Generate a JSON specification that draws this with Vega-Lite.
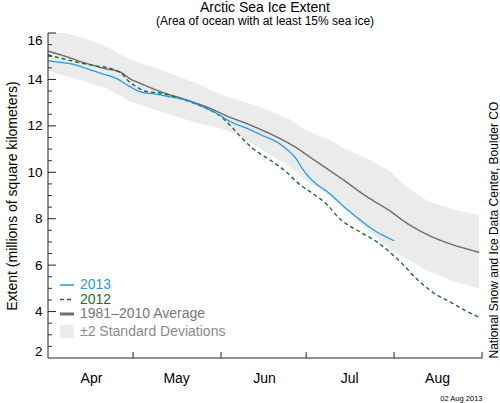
{
  "$schema": "https://vega.github.io/schema/vega-lite/v6.json",
  "width": 434,
  "height": 325,
  "autosize": "none",
  "padding": {"left": 48, "top": 33, "right": 18, "bottom": 45},
  "background": "white",
  "config": {
    "view": {"stroke": null},
    "font": "Liberation Sans",
    "axis": {"labelFont": "Liberation Sans", "titleFont": "Liberation Sans", "grid": false},
    "legend": {"labelFont": "Liberation Sans"}
  },
  "title": {
    "text": "Arctic Sea Ice Extent",
    "subtitle": "(Area of ocean with at least 15% sea ice)",
    "fontSize": 14,
    "fontWeight": "normal",
    "subtitleFontSize": 12,
    "anchor": "middle",
    "offset": 6,
    "subtitlePadding": 1,
    "color": "black",
    "subtitleColor": "black",
    "font": "Liberation Sans",
    "subtitleFont": "Liberation Sans"
  },
  "datasets": {
    "band": [
      {"date": "2013-04-01", "lo": 14.4, "hi": 16.0},
      {"date": "2013-04-07", "lo": 14.15, "hi": 16.0},
      {"date": "2013-04-13", "lo": 13.95, "hi": 15.8},
      {"date": "2013-04-22", "lo": 13.6, "hi": 15.4},
      {"date": "2013-04-30", "lo": 13.05, "hi": 14.85},
      {"date": "2013-05-11", "lo": 12.6, "hi": 14.4},
      {"date": "2013-05-23", "lo": 12.15, "hi": 13.85},
      {"date": "2013-06-01", "lo": 11.9, "hi": 13.35},
      {"date": "2013-06-07", "lo": 11.6, "hi": 13.1},
      {"date": "2013-06-15", "lo": 11.0, "hi": 12.8},
      {"date": "2013-06-25", "lo": 10.25, "hi": 12.3},
      {"date": "2013-07-01", "lo": 9.65, "hi": 11.8},
      {"date": "2013-07-09", "lo": 9.0, "hi": 11.4},
      {"date": "2013-07-15", "lo": 8.35, "hi": 11.0},
      {"date": "2013-07-22", "lo": 7.6, "hi": 10.6},
      {"date": "2013-07-30", "lo": 6.75, "hi": 10.1},
      {"date": "2013-08-05", "lo": 6.3, "hi": 9.4},
      {"date": "2013-08-13", "lo": 5.75, "hi": 8.75},
      {"date": "2013-08-22", "lo": 5.3, "hi": 8.4},
      {"date": "2013-08-31", "lo": 5.0, "hi": 8.15}
    ],
    "lines": [
      {"series": "1981–2010 Average", "date": "2013-04-01", "value": 15.22},
      {"series": "1981–2010 Average", "date": "2013-04-07", "value": 15.0},
      {"series": "1981–2010 Average", "date": "2013-04-13", "value": 14.75},
      {"series": "1981–2010 Average", "date": "2013-04-20", "value": 14.5},
      {"series": "1981–2010 Average", "date": "2013-04-27", "value": 14.28},
      {"series": "1981–2010 Average", "date": "2013-04-30", "value": 14.02},
      {"series": "1981–2010 Average", "date": "2013-05-03", "value": 13.86},
      {"series": "1981–2010 Average", "date": "2013-05-11", "value": 13.46},
      {"series": "1981–2010 Average", "date": "2013-05-19", "value": 13.15},
      {"series": "1981–2010 Average", "date": "2013-05-27", "value": 12.81},
      {"series": "1981–2010 Average", "date": "2013-06-04", "value": 12.38},
      {"series": "1981–2010 Average", "date": "2013-06-10", "value": 12.1},
      {"series": "1981–2010 Average", "date": "2013-06-15", "value": 11.84},
      {"series": "1981–2010 Average", "date": "2013-06-21", "value": 11.5},
      {"series": "1981–2010 Average", "date": "2013-06-27", "value": 11.1},
      {"series": "1981–2010 Average", "date": "2013-07-03", "value": 10.6},
      {"series": "1981–2010 Average", "date": "2013-07-09", "value": 10.1},
      {"series": "1981–2010 Average", "date": "2013-07-15", "value": 9.6},
      {"series": "1981–2010 Average", "date": "2013-07-20", "value": 9.15},
      {"series": "1981–2010 Average", "date": "2013-07-25", "value": 8.75},
      {"series": "1981–2010 Average", "date": "2013-07-30", "value": 8.38},
      {"series": "1981–2010 Average", "date": "2013-08-05", "value": 7.85},
      {"series": "1981–2010 Average", "date": "2013-08-13", "value": 7.3},
      {"series": "1981–2010 Average", "date": "2013-08-20", "value": 6.95},
      {"series": "1981–2010 Average", "date": "2013-08-26", "value": 6.72},
      {"series": "1981–2010 Average", "date": "2013-08-31", "value": 6.55},
      {"series": "2012", "date": "2013-04-01", "value": 15.05},
      {"series": "2012", "date": "2013-04-06", "value": 14.9},
      {"series": "2012", "date": "2013-04-11", "value": 14.75},
      {"series": "2012", "date": "2013-04-17", "value": 14.6},
      {"series": "2012", "date": "2013-04-23", "value": 14.47},
      {"series": "2012", "date": "2013-04-27", "value": 14.25},
      {"series": "2012", "date": "2013-04-29", "value": 13.97},
      {"series": "2012", "date": "2013-05-02", "value": 13.7},
      {"series": "2012", "date": "2013-05-05", "value": 13.5},
      {"series": "2012", "date": "2013-05-11", "value": 13.4},
      {"series": "2012", "date": "2013-05-19", "value": 13.12},
      {"series": "2012", "date": "2013-05-24", "value": 12.9},
      {"series": "2012", "date": "2013-05-28", "value": 12.69},
      {"series": "2012", "date": "2013-06-01", "value": 12.4},
      {"series": "2012", "date": "2013-06-04", "value": 12.05},
      {"series": "2012", "date": "2013-06-08", "value": 11.52},
      {"series": "2012", "date": "2013-06-12", "value": 11.05},
      {"series": "2012", "date": "2013-06-18", "value": 10.55},
      {"series": "2012", "date": "2013-06-23", "value": 10.12},
      {"series": "2012", "date": "2013-06-29", "value": 9.45},
      {"series": "2012", "date": "2013-07-03", "value": 9.11},
      {"series": "2012", "date": "2013-07-08", "value": 8.65},
      {"series": "2012", "date": "2013-07-13", "value": 7.98},
      {"series": "2012", "date": "2013-07-20", "value": 7.43},
      {"series": "2012", "date": "2013-07-26", "value": 7.0},
      {"series": "2012", "date": "2013-07-31", "value": 6.5},
      {"series": "2012", "date": "2013-08-04", "value": 6.05},
      {"series": "2012", "date": "2013-08-09", "value": 5.4},
      {"series": "2012", "date": "2013-08-15", "value": 4.8},
      {"series": "2012", "date": "2013-08-21", "value": 4.4},
      {"series": "2012", "date": "2013-08-26", "value": 4.05},
      {"series": "2012", "date": "2013-08-31", "value": 3.75},
      {"series": "2013", "date": "2013-04-01", "value": 14.8},
      {"series": "2013", "date": "2013-04-05", "value": 14.74},
      {"series": "2013", "date": "2013-04-10", "value": 14.65},
      {"series": "2013", "date": "2013-04-15", "value": 14.45},
      {"series": "2013", "date": "2013-04-20", "value": 14.25},
      {"series": "2013", "date": "2013-04-25", "value": 14.05},
      {"series": "2013", "date": "2013-04-30", "value": 13.68},
      {"series": "2013", "date": "2013-05-04", "value": 13.45},
      {"series": "2013", "date": "2013-05-09", "value": 13.37},
      {"series": "2013", "date": "2013-05-14", "value": 13.25},
      {"series": "2013", "date": "2013-05-20", "value": 13.1},
      {"series": "2013", "date": "2013-05-25", "value": 12.85},
      {"series": "2013", "date": "2013-05-31", "value": 12.5},
      {"series": "2013", "date": "2013-06-04", "value": 12.2},
      {"series": "2013", "date": "2013-06-10", "value": 11.9},
      {"series": "2013", "date": "2013-06-15", "value": 11.62},
      {"series": "2013", "date": "2013-06-22", "value": 11.2},
      {"series": "2013", "date": "2013-06-25", "value": 10.9},
      {"series": "2013", "date": "2013-06-27", "value": 10.66},
      {"series": "2013", "date": "2013-06-30", "value": 10.1},
      {"series": "2013", "date": "2013-07-03", "value": 9.67},
      {"series": "2013", "date": "2013-07-09", "value": 9.11},
      {"series": "2013", "date": "2013-07-15", "value": 8.45},
      {"series": "2013", "date": "2013-07-20", "value": 7.95},
      {"series": "2013", "date": "2013-07-25", "value": 7.5},
      {"series": "2013", "date": "2013-07-30", "value": 7.17},
      {"series": "2013", "date": "2013-08-01", "value": 7.05}
    ],
    "frame": [{"start": "2013-04-01", "end": "2013-09-01", "low": 2, "high": 16}],
    "yMajor": [{"v": 4}, {"v": 6}, {"v": 8}, {"v": 10}, {"v": 12}, {"v": 14}, {"v": 16}],
    "yMinor": [
      {"v": 2.5}, {"v": 3}, {"v": 3.5}, {"v": 4.5}, {"v": 5}, {"v": 5.5}, {"v": 6.5}, {"v": 7}, {"v": 7.5},
      {"v": 8.5}, {"v": 9}, {"v": 9.5}, {"v": 10.5}, {"v": 11}, {"v": 11.5}, {"v": 12.5}, {"v": 13}, {"v": 13.5},
      {"v": 14.5}, {"v": 15}, {"v": 15.5}
    ],
    "months": [
      {"date": "2013-05-01", "low": 2},
      {"date": "2013-06-01", "low": 2},
      {"date": "2013-07-01", "low": 2},
      {"date": "2013-08-01", "low": 2},
      {"date": "2013-09-01", "low": 2}
    ]
  },
  "resolve": {"axis": {"y": "independent", "x": "independent"}},
  "layer": [
    {
      "data": {"name": "band"},
      "mark": {"type": "area", "opacity": 1},
      "encoding": {
        "x": {
          "field": "date",
          "type": "temporal",
          "scale": {
            "type": "utc",
            "domain": [
              {"year": 2013, "month": 4, "date": 1, "utc": true},
              {"year": 2013, "month": 9, "date": 1, "utc": true}
            ]
          },
          "axis": {
            "orient": "bottom",
            "values": [
              {"year": 2013, "month": 4, "date": 1, "utc": true},
              {"year": 2013, "month": 5, "date": 1, "utc": true},
              {"year": 2013, "month": 6, "date": 1, "utc": true},
              {"year": 2013, "month": 7, "date": 1, "utc": true},
              {"year": 2013, "month": 8, "date": 1, "utc": true},
              {"year": 2013, "month": 9, "date": 1, "utc": true}
            ],
            "labelExpr": "utcFormat(datum.value, '%m') == '09' ? '' : utcFormat(datum.value, '%b')",
            "labelOffset": 43,
            "labelAlign": "center",
            "labelFontSize": 14,
            "labelColor": "black",
            "labelPadding": 13,
            "labelFlush": false,
            "labelOverlap": false,
            "labelBound": false,
            "ticks": false,
            "domain": false,
            "title": "02 Aug 2013",
            "titleAnchor": "end",
            "titleFontSize": 7.5,
            "titleFontWeight": "normal",
            "titleColor": "black",
            "titlePadding": 9
          }
        },
        "y": {
          "field": "lo",
          "type": "quantitative",
          "scale": {"domain": [2, 16], "nice": false, "zero": false},
          "axis": {
            "orient": "left",
            "values": [2, 4, 6, 8, 10, 12, 14, 16],
            "format": "d",
            "ticks": false,
            "domain": false,
            "labelFlush": true,
            "labelOverlap": false,
            "labelFontSize": 13.5,
            "labelColor": "black",
            "labelPadding": 6,
            "title": "Extent (millions of square kilometers)",
            "titleFontSize": 14,
            "titleFontWeight": "normal",
            "titleColor": "black",
            "titlePadding": 7
          }
        },
        "y2": {"field": "hi"},
        "color": {
          "datum": "±2 Standard Deviations",
          "scale": {
            "domain": ["2013", "2012", "1981–2010 Average", "±2 Standard Deviations"],
            "range": ["#1e9be9", "#1f6b35", "#707070", "#ebebeb"]
          },
          "legend": {
            "orient": "none",
            "legendX": 12,
            "legendY": 245,
            "title": null,
            "padding": 0,
            "labelFontSize": 14,
            "labelOffset": 6,
            "symbolSize": 144,
            "rowPadding": 0.5,
            "values": ["2013", "2012", "1981–2010 Average", "±2 Standard Deviations"],
            "encode": {
              "symbols": {
                "update": {
                  "shape": {"signal": "datum.value === '±2 Standard Deviations' ? 'square' : 'stroke'"},
                  "size": {"signal": "datum.value === '±2 Standard Deviations' ? 150 : 196"},
                  "fill": {"signal": "datum.value === '±2 Standard Deviations' ? '#e8e8e8' : 'transparent'"},
                  "stroke": {"signal": "datum.value === '2013' ? '#1e9be9' : datum.value === '2012' ? '#1f6b35' : datum.value === '1981–2010 Average' ? '#707070' : 'transparent'"},
                  "strokeWidth": {"signal": "datum.value === '1981–2010 Average' ? 3 : 1.5"},
                  "strokeDash": {"signal": "datum.value === '2012' ? [4, 3] : [1, 0]"},
                  "opacity": {"value": 1}
                }
              },
              "labels": {
                "update": {
                  "fill": {"signal": "datum.value === '2013' ? '#1e9be9' : datum.value === '2012' ? '#1f6b35' : datum.value === '1981–2010 Average' ? '#777777' : '#8a8a8a'"}
                }
              }
            }
          }
        }
      }
    },
    {
      "data": {"name": "lines"},
      "mark": {"type": "line", "interpolate": "monotone"},
      "encoding": {
        "x": {"field": "date", "type": "temporal", "scale": {"type": "utc"}, "axis": null},
        "y": {"field": "value", "type": "quantitative", "axis": null},
        "color": {
          "field": "series",
          "type": "nominal",
          "scale": {
            "domain": ["2013", "2012", "1981–2010 Average", "±2 Standard Deviations"],
            "range": ["#1e9be9", "#1f6b35", "#707070", "#ebebeb"]
          },
          "legend": {
            "orient": "none",
            "legendX": 12,
            "legendY": 245,
            "title": null,
            "padding": 0,
            "labelFontSize": 14,
            "labelOffset": 6,
            "symbolSize": 144,
            "rowPadding": 0.5,
            "values": ["2013", "2012", "1981–2010 Average", "±2 Standard Deviations"],
            "encode": {
              "symbols": {
                "update": {
                  "shape": {"signal": "datum.value === '±2 Standard Deviations' ? 'square' : 'stroke'"},
                  "size": {"signal": "datum.value === '±2 Standard Deviations' ? 150 : 196"},
                  "fill": {"signal": "datum.value === '±2 Standard Deviations' ? '#e8e8e8' : 'transparent'"},
                  "stroke": {"signal": "datum.value === '2013' ? '#1e9be9' : datum.value === '2012' ? '#1f6b35' : datum.value === '1981–2010 Average' ? '#707070' : 'transparent'"},
                  "strokeWidth": {"signal": "datum.value === '1981–2010 Average' ? 3 : 1.5"},
                  "strokeDash": {"signal": "datum.value === '2012' ? [4, 3] : [1, 0]"},
                  "opacity": {"value": 1}
                }
              },
              "labels": {
                "update": {
                  "fill": {"signal": "datum.value === '2013' ? '#1e9be9' : datum.value === '2012' ? '#1f6b35' : datum.value === '1981–2010 Average' ? '#777777' : '#8a8a8a'"}
                }
              }
            }
          }
        },
        "strokeDash": {
          "field": "series",
          "type": "nominal",
          "scale": {"domain": ["2013", "2012", "1981–2010 Average"], "range": [[1, 0], [4, 3], [1, 0]]},
          "legend": null
        },
        "strokeWidth": {
          "field": "series",
          "type": "nominal",
          "scale": {"domain": ["2013", "2012", "1981–2010 Average"], "range": [1.3, 1.5, 3]},
          "legend": null
        }
      }
    },
    {
      "data": {"name": "frame"},
      "mark": {"type": "rule", "color": "#222222", "strokeWidth": 1},
      "encoding": {
        "x": {"field": "start", "type": "temporal", "axis": null},
        "y": {"field": "low", "type": "quantitative", "axis": null},
        "y2": {"field": "high"}
      }
    },
    {
      "data": {"name": "frame"},
      "mark": {"type": "rule", "color": "#222222", "strokeWidth": 1},
      "encoding": {
        "x": {"field": "start", "type": "temporal", "axis": null},
        "x2": {"field": "end"},
        "y": {"field": "low", "type": "quantitative", "axis": null}
      }
    },
    {
      "data": {"name": "yMajor"},
      "mark": {"type": "tick", "orient": "horizontal", "color": "#222222", "thickness": 1, "size": 8, "xOffset": 4, "opacity": 1},
      "encoding": {
        "x": {"datum": {"year": 2013, "month": 4, "date": 1, "utc": true}, "type": "temporal", "axis": null},
        "y": {"field": "v", "type": "quantitative", "axis": null}
      }
    },
    {
      "data": {"name": "yMinor"},
      "mark": {"type": "tick", "orient": "horizontal", "color": "#333333", "thickness": 1, "size": 4, "xOffset": 2, "opacity": 1},
      "encoding": {
        "x": {"datum": {"year": 2013, "month": 4, "date": 1, "utc": true}, "type": "temporal", "axis": null},
        "y": {"field": "v", "type": "quantitative", "axis": null}
      }
    },
    {
      "data": {"name": "months"},
      "mark": {"type": "tick", "orient": "vertical", "color": "#222222", "thickness": 1, "size": 6, "yOffset": -3, "opacity": 1},
      "encoding": {
        "x": {"field": "date", "type": "temporal", "axis": null},
        "y": {"field": "low", "type": "quantitative", "axis": null}
      }
    },
    {
      "data": {"name": "band"},
      "mark": {"type": "line", "opacity": 0},
      "encoding": {
        "x": {"field": "date", "type": "temporal", "scale": {"type": "utc"}, "axis": null},
        "y": {
          "field": "hi",
          "type": "quantitative",
          "axis": {
            "orient": "right",
            "title": "National Snow and Ice Data Center, Boulder CO",
            "titleAngle": 270,
            "titleAnchor": "start",
            "titleFontSize": 12,
            "titleFontWeight": "normal",
            "titleColor": "black",
            "titlePadding": 18,
            "labels": false,
            "ticks": false,
            "domain": false
          }
        }
      }
    }
  ]
}
